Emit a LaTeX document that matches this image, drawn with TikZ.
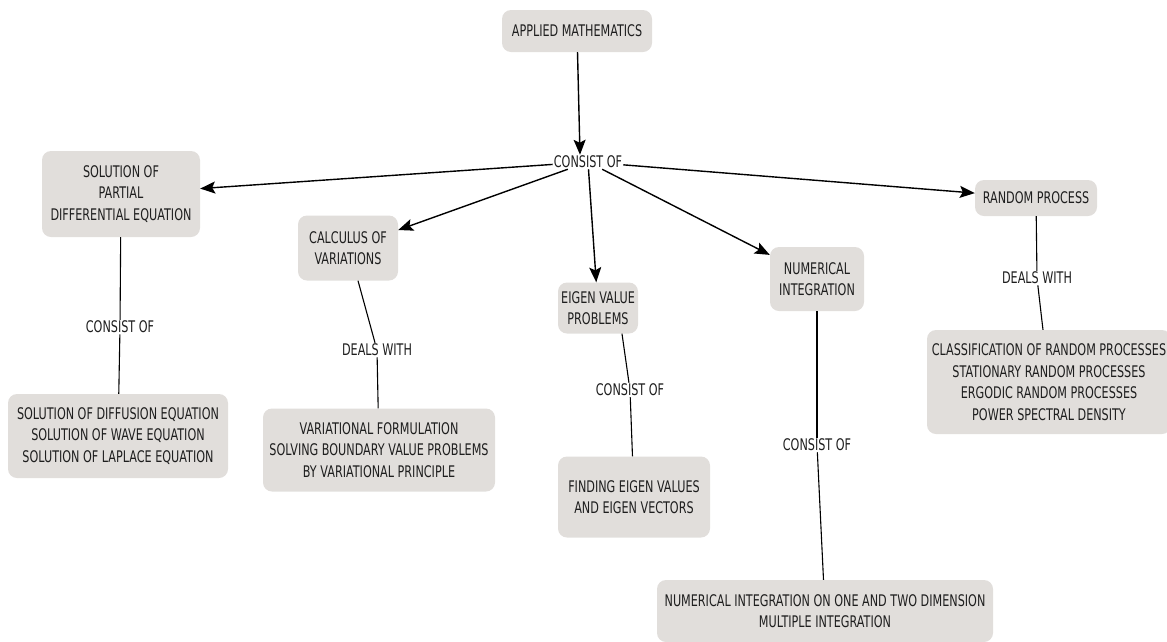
\documentclass[tikz,border=0pt]{standalone}
\usepackage{fontspec}
\setmainfont[FakeStretch=0.7]{DejaVu Sans}
\usetikzlibrary{arrows.meta}
\definecolor{boxfill}{HTML}{E1DEDB}
\definecolor{txt}{HTML}{1E1E1E}
\begin{document}
\begin{tikzpicture}[x=1pt,y=-1pt,
  every node/.style={font=\fontsize{16}{21.5}\selectfont, text=txt, align=center, inner sep=0pt},
  cbox/.style={fill=boxfill, rounded corners=9pt},
  lab/.style={fill=white, inner sep=1pt},
  arr/.style={line width=1.4pt, -{Stealth[length=15pt,width=12pt,inset=3pt]}},
  lnk/.style={line width=1.1pt}]
\useasboundingbox (0,0) rectangle (1167,641);
\clip (0,0) rectangle (1167,641);
% nodes
\node[cbox, minimum width=150pt, minimum height=42pt] (am) at (577,31) {APPLIED MATHEMATICS};
\node[lab] (co) at (588,162) {CONSIST OF};
\node[cbox, minimum width=158pt, minimum height=86pt] (pde) at (121,194) {SOLUTION OF\\PARTIAL\\DIFFERENTIAL EQUATION};
\node[cbox, minimum width=100pt, minimum height=65pt] (calc) at (348,248) {CALCULUS OF\\VARIATIONS};
\node[cbox, minimum width=80pt, minimum height=51pt] (eig) at (598,308) {EIGEN VALUE\\PROBLEMS};
\node[cbox, minimum width=94pt, minimum height=64pt] (num) at (817,279) {NUMERICAL\\INTEGRATION};
\node[cbox, minimum width=122pt, minimum height=36pt] (rp) at (1036,198) {RANDOM PROCESS};
\node[cbox, minimum width=220pt, minimum height=84pt] (sol) at (118,436) {SOLUTION OF DIFFUSION EQUATION\\SOLUTION OF WAVE EQUATION\\SOLUTION OF LAPLACE EQUATION};
\node[cbox, minimum width=232pt, minimum height=83pt] (var) at (379,450) {VARIATIONAL FORMULATION\\SOLVING BOUNDARY VALUE PROBLEMS\\BY VARIATIONAL PRINCIPLE};
\node[cbox, minimum width=152pt, minimum height=81pt] (fin) at (634,497) {FINDING EIGEN VALUES\\AND EIGEN VECTORS};
\node[cbox, minimum width=336pt, minimum height=62pt] (nid) at (825,611) {NUMERICAL INTEGRATION ON ONE AND TWO DIMENSION\\MULTIPLE INTEGRATION};
\node[cbox, minimum width=244pt, minimum height=104pt] (cls) at (1049,382) {CLASSIFICATION OF RANDOM PROCESSES\\STATIONARY RANDOM PROCESSES\\ERGODIC RANDOM PROCESSES\\POWER SPECTRAL DENSITY};
% link labels
\node[lab] (l1) at (120,327) {CONSIST OF};
\node[lab] (l2) at (377,350) {DEALS WITH};
\node[lab] (l3) at (630,390) {CONSIST OF};
\node[lab] (l4) at (817,445) {CONSIST OF};
\node[lab] (l5) at (1037,278) {DEALS WITH};
% arrows
\draw[arr] (am) -- ([xshift=-8pt]co.north);
\draw[arr] (co) -- (pde);
\draw[arr] (co) -- (calc);
\draw[arr] (co) -- (eig);
\draw[arr] (co) -- (num);
\draw[arr] (co) -- (rp);
% links
\draw[lnk] (pde) -- (l1);
\draw[lnk] (l1) -- (sol);
\draw[lnk] ([xshift=10pt]calc.south) -- (l2);
\draw[lnk] (l2) -- (var);
\draw[lnk] ([xshift=24pt]eig.south) -- (l3);
\draw[lnk] (l3) -- (fin);
\draw[lnk] (num) -- (l4);
\draw[lnk] (l4) -- (nid);
\draw[lnk] (rp) -- (l5);
\draw[lnk] (l5) -- (cls);
\end{tikzpicture}
\end{document}
